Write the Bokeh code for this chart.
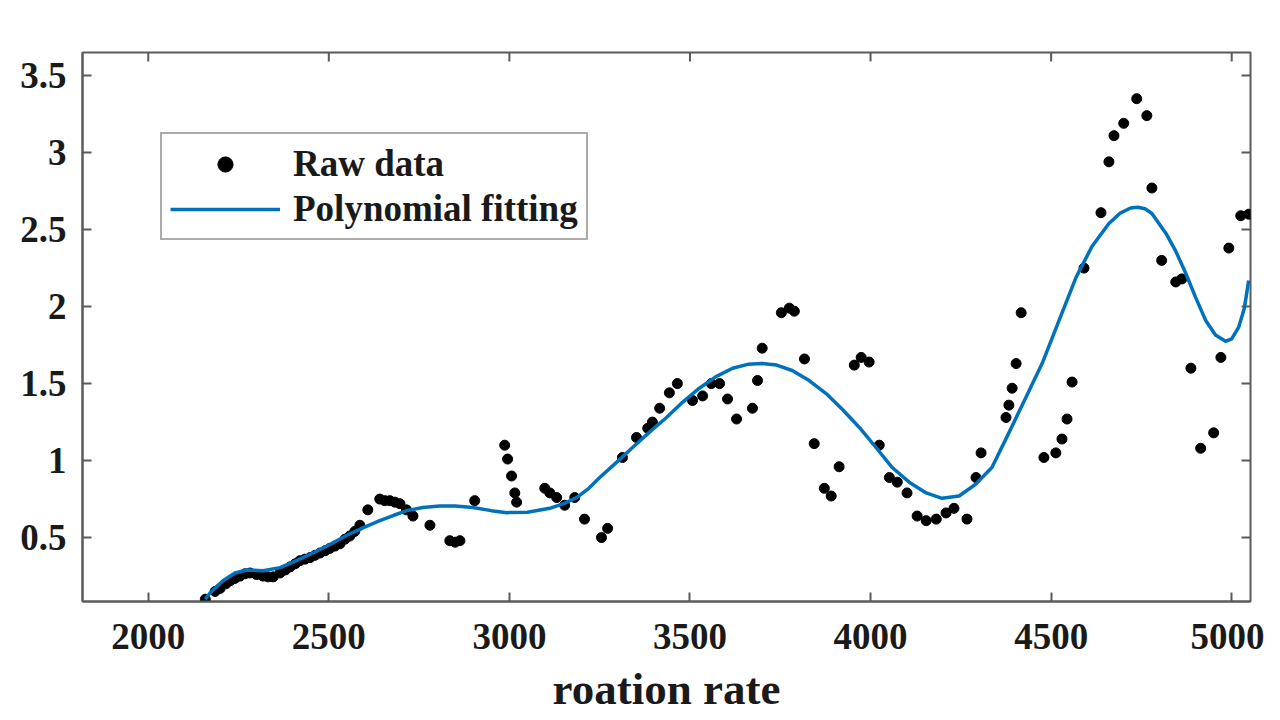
import math
from bokeh.plotting import figure
from bokeh.models import Range1d, Legend, LegendItem, FixedTicker
from bokeh.embed import file_html
from bokeh.resources import INLINE

# ---------------- data ----------------
raw_x = [2158, 2185, 2199, 2215, 2227, 2240, 2254, 2268, 2282, 2300, 2318, 2332,
         2346, 2365, 2380, 2393, 2407, 2420, 2434, 2448, 2462, 2476, 2490, 2503,
         2517, 2531, 2545, 2558, 2572, 2586, 2608, 2641, 2655, 2669, 2683, 2697,
         2715, 2733, 2780, 2835, 2850, 2863, 2904,
         2987, 2995, 3006, 3015, 3020, 3098, 3112, 3131, 3153, 3181, 3208, 3255,
         3272, 3313, 3352, 3383, 3396, 3416, 3443, 3465, 3507, 3535, 3559, 3582,
         3604, 3629, 3673, 3687, 3700, 3753, 3775, 3789, 3817, 3844, 3872, 3891,
         3913, 3955, 3974, 3996, 4024, 4052, 4074, 4101, 4129, 4154, 4182, 4209,
         4231, 4267, 4292, 4306, 4375, 4383, 4392, 4403, 4417, 4480, 4513, 4530,
         4544, 4558, 4591, 4638, 4660, 4674, 4701, 4737, 4765, 4779, 4806, 4845,
         4862, 4887, 4914, 4950, 4970, 4992, 5025, 5047]
raw_y = [0.10, 0.15, 0.17, 0.20, 0.22, 0.235, 0.25, 0.265, 0.27, 0.26, 0.25, 0.245,
         0.245, 0.27, 0.29, 0.31, 0.33, 0.35, 0.36, 0.37, 0.385, 0.40, 0.415, 0.43,
         0.445, 0.46, 0.49, 0.51, 0.54, 0.58, 0.68, 0.75, 0.74, 0.74, 0.73, 0.72,
         0.68, 0.64, 0.58, 0.48, 0.47, 0.48, 0.74,
         1.10, 1.01, 0.90, 0.79, 0.73, 0.82, 0.79, 0.76, 0.71, 0.76, 0.62, 0.50,
         0.56, 1.02, 1.15, 1.21, 1.25, 1.34, 1.44, 1.50, 1.39, 1.42, 1.50, 1.50,
         1.40, 1.27, 1.34, 1.52, 1.73, 1.96, 1.99, 1.97, 1.66, 1.11, 0.82, 0.77,
         0.96, 1.62, 1.67, 1.64, 1.10, 0.89, 0.86, 0.79, 0.64, 0.61, 0.62, 0.66,
         0.69, 0.62, 0.89, 1.05, 1.28, 1.36, 1.47, 1.63, 1.96, 1.02, 1.05, 1.14,
         1.27, 1.51, 2.25, 2.61, 2.94, 3.11, 3.19, 3.35, 3.24, 2.77, 2.30, 2.16,
         2.18, 1.60, 1.08, 1.18, 1.67, 2.38, 2.59, 2.60]

fit_x = [2158, 2171, 2207, 2240, 2274, 2318, 2365, 2410, 2456, 2503, 2550, 2596,
         2641, 2680, 2716, 2760, 2807, 2850, 2899, 2950, 2993, 3050, 3112, 3150,
         3186, 3220, 3250, 3295, 3341, 3388, 3435, 3480, 3526, 3572, 3618, 3660,
         3700, 3740, 3783, 3830, 3877, 3923, 3969, 4015, 4060, 4107, 4154, 4198,
         4245, 4290, 4336, 4383, 4430, 4475, 4522, 4569, 4613, 4660, 4690, 4720,
         4740, 4760, 4779, 4818, 4845, 4873, 4900, 4928, 4955, 4983, 5000, 5019,
         5035, 5047]
fit_y = [0.10, 0.14, 0.22, 0.27, 0.29, 0.285, 0.305, 0.35, 0.40, 0.455, 0.515, 0.565,
         0.61, 0.645, 0.675, 0.695, 0.705, 0.705, 0.695, 0.675, 0.662, 0.665, 0.69, 0.72,
         0.76, 0.82, 0.89, 0.985, 1.085, 1.185, 1.28, 1.38, 1.47, 1.545, 1.60, 1.625,
         1.63, 1.62, 1.585, 1.52, 1.435, 1.33, 1.215, 1.085, 0.955, 0.86, 0.79, 0.755,
         0.77, 0.845, 0.955, 1.18, 1.41, 1.63, 1.91, 2.19, 2.39, 2.54, 2.605, 2.64,
         2.645, 2.635, 2.605, 2.475, 2.36, 2.215, 2.06, 1.91, 1.815, 1.775, 1.79, 1.865,
         1.99, 2.17]

x_ticks = [2000, 2500, 3000, 3500, 4000, 4500, 5000]
y_ticks = [0.5, 1, 1.5, 2, 2.5, 3, 3.5]
x_label = "roation rate"
series_names = ["Raw data", "Polynomial fitting"]

X_MIN, X_MAX = 1818, 5052
Y_MIN, Y_MAX = 0.085, 3.65

FONT = "Liberation Serif"
AXIS_COLOR = "#5a5a5a"
TEXT_COLOR = "#1a1a1a"
TICK_LEN = 9

p = figure(frame_width=1168, frame_height=549,
           x_range=Range1d(X_MIN, X_MAX), y_range=Range1d(Y_MIN, Y_MAX),
           output_backend="svg", toolbar_location=None,
           min_border_left=82, min_border_top=52, min_border_right=14,
           min_border_bottom=0)
p.background_fill_color = "white"
p.border_fill_color = "white"
p.outline_line_color = AXIS_COLOR
p.outline_line_width = 2
p.xgrid.visible = False
p.ygrid.visible = False

for ax in (p.xaxis[0], p.yaxis[0]):
    ax.axis_line_color = AXIS_COLOR
    ax.axis_line_width = 2
    ax.major_tick_line_color = AXIS_COLOR
    ax.major_tick_line_width = 2
    ax.major_tick_in = TICK_LEN
    ax.major_tick_out = 0
    ax.minor_tick_line_color = None
    ax.major_label_text_font = FONT
    ax.major_label_text_font_style = "bold"
    ax.major_label_text_font_size = "37px"
    ax.major_label_text_color = TEXT_COLOR

p.xaxis[0].ticker = FixedTicker(ticks=x_ticks)
p.yaxis[0].ticker = FixedTicker(ticks=y_ticks)
p.xaxis[0].major_label_standoff = 22
p.yaxis[0].major_label_standoff = 16
p.xaxis[0].axis_label = x_label
p.xaxis[0].axis_label_text_font = FONT
p.xaxis[0].axis_label_text_font_style = "bold"
p.xaxis[0].axis_label_text_font_size = "45px"
p.xaxis[0].axis_label_text_color = TEXT_COLOR
p.xaxis[0].axis_label_standoff = 12

# box ticks on the top and right edges (MATLAB "box on")
p.ray(x=x_ticks, y=[Y_MAX] * len(x_ticks), length=TICK_LEN, length_units="screen",
      angle=-math.pi / 2, line_color=AXIS_COLOR, line_width=2)
p.ray(x=[X_MAX] * len(y_ticks), y=y_ticks, length=TICK_LEN, length_units="screen",
      angle=math.pi, line_color=AXIS_COLOR, line_width=2)

r_pts = p.scatter(raw_x, raw_y, size=10, color="black")
r_fit = p.line(fit_x, fit_y, line_width=3.5, color="#0072BD", line_join="round")

legend = Legend(items=[LegendItem(label=series_names[0], renderers=[r_pts]),
                       LegendItem(label=series_names[1], renderers=[r_fit])],
                location=(78, 361), orientation="vertical")
legend.label_text_font = FONT
legend.label_text_font_style = "bold"
legend.label_text_font_size = "37px"
legend.label_text_color = TEXT_COLOR
legend.label_height = 38
legend.glyph_height = 38
legend.glyph_width = 110
legend.label_standoff = 13
legend.spacing = 2
legend.padding = 8
legend.margin = 0
legend.border_line_color = AXIS_COLOR
legend.border_line_width = 2
legend.background_fill_color = "white"
legend.background_fill_alpha = 1
p.add_layout(legend)

open("out.html", "w").write(file_html(p, INLINE))
